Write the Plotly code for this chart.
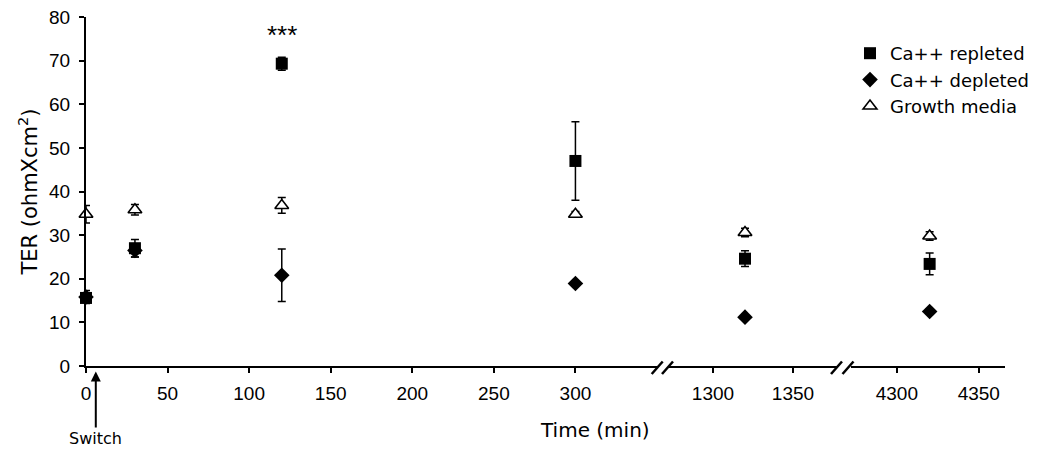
import plotly.graph_objects as go

# ---- data ----
times = [0, 30, 120, 300, 1320, 4320]
repleted = [15.6, 27.0, 69.3, 47.0, 24.6, 23.4]
repleted_err = [1.2, 2.0, 1.5, 9.0, 1.8, 2.5]
depleted = [15.8, 26.5, 20.8, 18.9, 11.2, 12.5]
depleted_err = [1.5, 1.5, 6.0, 0.4, 0.5, 0.6]
growth = [34.8, 35.8, 36.8, 34.8, 30.6, 29.8]
growth_err = [2.0, 1.2, 1.8, 0.6, 1.0, 1.0]

y_ticks = [0, 10, 20, 30, 40, 50, 60, 70, 80]
seg1_ticks = [0, 50, 100, 150, 200, 250, 300]
seg2_ticks = [1300, 1350]
seg3_ticks = [4300, 4350]

FONT = "Liberation Sans, Arial, sans-serif"
WIDE = "DejaVu Sans, sans-serif"
# page body has an 8px margin; size the figure to fit the window
OFF = 8
W, H = 1050 - OFF, 457 - OFF
L, T = 86 - OFF, 17 - OFF
PW, PH = 919, 349
R = W - L - PW
B = H - T - PH

def px(s):  # screen x -> paper
    return (s - OFF - L) / PW

def py(s):  # screen y -> paper
    return (T + PH - (s - OFF)) / PH

segments = [
    ("x", [0, 350], [0.0, px(657)], seg1_ticks),
    ("x2", [1272.5, 1377.5], [px(669), px(837)], seg2_ticks),
    ("x3", [4272, 4366], [px(851), 1.0], seg3_ticks),
]
bounds = [(None, 350), (1272.5, 1377.5), (4272, None)]

series = [
    ("Ca++ repleted", repleted, repleted_err, "square", 12, "black", 0),
    ("Ca++ depleted", depleted, depleted_err, "diamond", 12, "black", 0),
    ("Growth media", growth, growth_err, "triangle-up", 12, "white", 1.6),
]

fig = go.Figure()
for si, (name, vals, errs, sym, size, fill, lw) in enumerate(series):
    for ki, (axname, rng, dom, tks) in enumerate(segments):
        lo, hi = bounds[ki]
        xs, ys, es = [], [], []
        for t, v, e in zip(times, vals, errs):
            if (lo is None or t >= lo) and (hi is None or t <= hi):
                xs.append(t); ys.append(v); es.append(e)
        fig.add_trace(go.Scatter(
            x=xs, y=ys, mode="markers", name=name,
            xaxis=axname, yaxis="y",
            showlegend=(ki == 0), legendgroup=name,
            marker=dict(symbol=sym, size=size, color=fill,
                        line=dict(color="black", width=lw)),
            error_y=dict(type="data", array=es, visible=True,
                         color="black", thickness=1.5, width=4),
            cliponaxis=False,
        ))

layout = dict(
    width=W, height=H,
    margin=dict(l=L, r=R, t=T, b=B, autoexpand=False),
    plot_bgcolor="white", paper_bgcolor="white",
    font=dict(family=FONT, color="black", size=18),
    showlegend=True,
    legend=dict(x=px(850), y=py(35), xanchor="left", yanchor="top",
                font=dict(size=18, family=WIDE, color="black"), itemwidth=30,
                bgcolor="rgba(0,0,0,0)", tracegroupgap=0),
    yaxis=dict(range=[0, 80], tickvals=y_ticks, showline=True,
               linecolor="black", linewidth=2, ticks="outside",
               ticklen=5, tickwidth=2, tickcolor="black",
               showgrid=False, zeroline=False, anchor="x",
               automargin=False, ticklabelstandoff=5,
               ticklabeloverflow="allow",
               title=dict(text="TER (ohmXcm<sup>2</sup>)",
                          font=dict(size=21, family=WIDE, color="black"),
                          standoff=6),
               tickfont=dict(size=19, color="black")),
)
for axname, rng, dom, tks in segments:
    key = "xaxis" if axname == "x" else "xaxis" + axname[1:]
    layout[key] = dict(range=rng, domain=dom, tickvals=tks,
                       showline=True, linecolor="black", linewidth=2,
                       ticks="outside", ticklen=5, tickwidth=2,
                       tickcolor="black", showgrid=False, zeroline=False,
                       anchor="y", tickfont=dict(size=19, color="black"),
                       automargin=False, ticklabelstandoff=4,
                       ticklabeloverflow="allow")
fig.update_layout(**layout)

# axis-break marks
shapes = []
for x0 in [651.7, 662.0, 831.0, 842.5]:
    shapes.append(dict(type="line", xref="paper", yref="paper",
                       x0=px(x0), y0=py(374), x1=px(x0 + 11), y1=py(361.5),
                       line=dict(color="black", width=2.5)))
fig.update_layout(shapes=shapes)

fig.add_annotation(x=120, y=75.8, xref="x", yref="y", text="***",
                   showarrow=False, font=dict(size=26, family=FONT))
fig.add_annotation(x=6, y=py(371.5), xref="x", yref="paper", text="Switch",
                   showarrow=True, arrowhead=2, arrowsize=1, arrowwidth=2,
                   arrowcolor="black", ax=0, ay=67,
                   font=dict(size=16, family=WIDE))
fig.add_annotation(x=px(595), y=py(430), xref="paper", yref="paper",
                   xanchor="center", yanchor="middle",
                   text="Time (min)", showarrow=False,
                   font=dict(size=20, family=WIDE))

fig.write_html("out.html")
